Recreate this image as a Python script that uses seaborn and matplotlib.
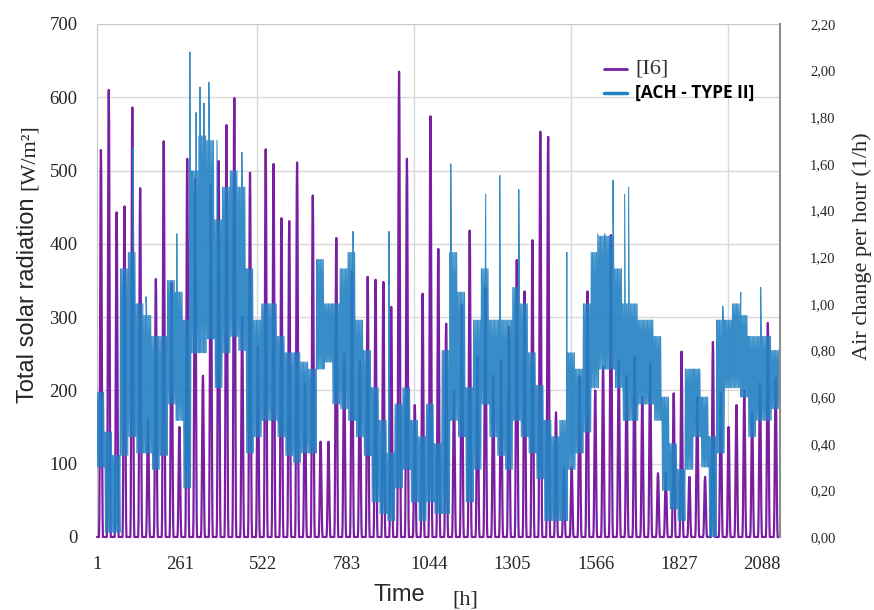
import matplotlib
matplotlib.use("Agg")
import matplotlib.pyplot as plt
import numpy as np
import pandas as pd
import seaborn as sns
from matplotlib.lines import Line2D

# daily noon peak of total solar radiation [I6], W/m2 (one value per day)
i6_peaks = [528, 610, 443, 451, 586, 476, 160, 352, 540, 347,
            150, 516, 489, 220, 480, 513, 562, 599, 300, 497,
            260, 529, 509, 435, 431, 511, 210, 466, 130, 130,
            408, 250, 362, 240, 355, 351, 348, 314, 635, 516,
            180, 332, 574, 393, 291, 200, 317, 418, 246, 340,
            220, 241, 287, 378, 335, 405, 553, 546, 170, 94,
            96, 219, 335, 200, 232, 412, 241, 220, 246, 191,
            237, 87, 87, 196, 253, 82, 191, 82, 266, 196,
            150, 180, 200, 170, 210, 292, 217]
# hourly shape of the day, relative to the noon peak
day_shape = [0, 0, 0, 0, 0, 0, 0, 0.05, 0.2, 0.45, 0.72, 0.93,
             1.0, 0.93, 0.72, 0.45, 0.2, 0.05, 0, 0, 0, 0, 0, 0]

# daily upper / lower envelope of the air change rate, 1/h
ach_high = [0.62, 0.45, 0.35, 1.15, 1.22, 1.00, 0.95, 0.86, 0.86, 1.10,
            1.05, 0.93, 1.57, 1.72, 1.70, 1.36, 1.50, 1.57, 1.50, 1.15,
            0.93, 1.00, 1.00, 0.86, 0.79, 0.79, 0.75, 0.72, 1.19, 1.00,
            1.00, 1.15, 1.22, 0.93, 0.80, 0.64, 0.50, 0.36, 0.57, 0.64,
            0.50, 0.43, 0.57, 0.40, 0.80, 1.22, 1.05, 0.64, 0.93, 1.15,
            0.93, 0.93, 0.93, 1.07, 1.00, 0.79, 0.65, 0.50, 0.43, 0.50,
            0.79, 0.72, 1.00, 1.22, 1.29, 1.29, 1.15, 1.00, 1.00, 0.93,
            0.93, 0.86, 0.60, 0.40, 0.29, 0.72, 0.72, 0.60, 0.43, 0.93,
            0.93, 1.00, 0.95, 0.86, 0.86, 0.86, 0.80]
ach_low = [0.30, 0.02, 0.02, 0.35, 0.43, 0.36, 0.36, 0.29, 0.35, 0.57,
           0.50, 0.21, 0.79, 0.79, 0.85, 0.64, 0.79, 0.86, 0.80, 0.36,
           0.43, 0.50, 0.50, 0.43, 0.35, 0.32, 0.36, 0.36, 0.72, 0.75,
           0.57, 0.55, 0.50, 0.43, 0.35, 0.15, 0.10, 0.07, 0.21, 0.29,
           0.15, 0.07, 0.15, 0.10, 0.10, 0.50, 0.43, 0.15, 0.29, 0.57,
           0.43, 0.35, 0.29, 0.50, 0.43, 0.36, 0.25, 0.07, 0.07, 0.07,
           0.29, 0.36, 0.45, 0.64, 0.72, 0.72, 0.64, 0.50, 0.50, 0.57,
           0.57, 0.50, 0.20, 0.12, 0.07, 0.29, 0.43, 0.30, 0.00, 0.36,
           0.64, 0.64, 0.60, 0.43, 0.50, 0.50, 0.55]
# isolated peaks of the air change rate
spike_hours = [110, 150, 244, 284, 303, 315, 327, 342, 367, 443,
               783, 893, 1082, 1189, 1232, 1290, 1437, 1532, 1553, 1578,
               1614, 1626, 1914, 1969, 2030]
spike_values = [1.67, 1.03, 1.30, 2.08, 1.82, 1.93, 1.86, 1.95, 1.70, 1.65,
                1.31, 1.31, 1.60, 1.47, 1.55, 1.49, 1.22, 1.30, 1.30, 1.53,
                1.47, 1.50, 0.99, 1.05, 1.07]

x_labels = ["1", "261", "522", "783", "1044", "1305", "1566", "1827", "2088"]
left_ticks = [0, 100, 200, 300, 400, 500, 600, 700]
right_labels = ["0,00", "0,20", "0,40", "0,60", "0,80", "1,00", "1,20",
                "1,40", "1,60", "1,80", "2,00", "2,20"]

# hourly solar radiation
hours, rad = [], []
for d, pk in enumerate(i6_peaks):
    for h, f in enumerate(day_shape):
        hours.append(d * 24 + h)
        rad.append(pk * f)
df_i6 = pd.DataFrame({"hour": hours, "I6": rad})

# air change: daily envelope traced back and forth, plus the spikes
pts = []
for d, (hi, lo) in enumerate(zip(ach_high, ach_low)):
    for h, v in zip(range(0, 24, 2), [hi, lo] * 6):
        pts.append((d * 24 + h, v))
pts += list(zip(spike_hours, spike_values))
pts.sort()
df_ach = pd.DataFrame(pts, columns=["hour", "ACH"])

sns.set_style("white")
serif = "Liberation Serif"
sans = "Liberation Sans"

purple = "#7B1FA2"
blue = "#2281C2"
grid_c = "#d9d9d9"

fig = plt.figure(figsize=(8.74, 6.1), dpi=100)
ax = fig.add_axes([0.111, 0.1197, 0.781, 0.841])
ax3 = ax.twinx()   # solar radiation
ax2 = ax.twinx()   # air change, drawn on top

xmax = 2088
ax.set_xlim(0, xmax)

# background grid
ax.set_ylim(0, 700)
ax.set_yticks(left_ticks)
ax.set_yticklabels([str(t) for t in left_ticks], fontfamily=serif, fontsize=13.5)
ax.yaxis.grid(True, color=grid_c, lw=1)
for gx in [490, 970, 1450, 1930]:
    ax.axvline(gx, color=grid_c, lw=1, zorder=0)
ax.set_xticks(np.linspace(0, 2034, len(x_labels)))
ax.set_xticklabels(x_labels, fontfamily=serif, fontsize=13.5)
ax.tick_params(axis="both", length=0)
ax.tick_params(axis="y", pad=14)
ax.tick_params(axis="x", pad=14)
for s in ["left", "top"]:
    ax.spines[s].set_color("#c8c8c8")
ax.spines["bottom"].set_visible(False)
ax.spines["right"].set_visible(False)

# solar radiation
sns.lineplot(data=df_i6, x="hour", y="I6", ax=ax3, color=purple, lw=1.6,
             estimator=None, sort=False, legend=False)
ax3.set_ylim(0, 700)
ax3.set_yticks([])
ax3.set_ylabel("")
for s in ax3.spines.values():
    s.set_visible(False)
for ln in ax3.lines:
    ln.set_clip_on(False)

# air change rate (right axis)
sns.lineplot(data=df_ach, x="hour", y="ACH", ax=ax2, color=blue, lw=0.8,
             alpha=0.9, estimator=None, sort=False, legend=False)
ax2.set_ylim(0, 2.2)
ax2.set_yticks(np.arange(0, 2.21, 0.2))
ax2.set_yticklabels(right_labels, fontfamily=serif, fontsize=10.5)
ax2.tick_params(axis="y", length=0, pad=22)
ax2.set_ylabel("")
for s in ["left", "top", "bottom"]:
    ax2.spines[s].set_visible(False)
ax2.spines["right"].set_color("#8c8c8c")
ax2.spines["right"].set_linewidth(1.5)

ax.set_xlim(0, xmax)
ax.set_xlabel("")
ax.set_ylabel("")

handles = [Line2D([], [], color=purple, lw=2), Line2D([], [], color=blue, lw=2.5)]
leg = ax2.legend(handles, ["[I6]", "[ACH - TYPE II]"], loc="upper left",
                 bbox_to_anchor=(0.725, 0.955), frameon=False,
                 handlelength=1.6, handletextpad=0.6, labelspacing=0.35)
t1, t2 = leg.get_texts()
t1.set_fontfamily(serif)
t1.set_fontsize(16)
t1.set_color("#333333")
t2.set_fontfamily("Open Sans")
t2.set_fontweight("bold")
t2.set_fontsize(12.5)
t2.set_color("black")

# axis titles
fig.text(28 / 874, 1 - 300 / 610, "Total solar radiation", rotation=90,
         ha="center", va="center", fontfamily=sans, fontsize=17)
fig.text(29 / 874, 1 - 157 / 610, "[W/m²]", rotation=90,
         ha="center", va="center", fontfamily=serif, fontsize=16)
fig.text(399 / 874, 1 - 595 / 610, "Time", ha="center", va="center",
         fontfamily=sans, fontsize=17)
fig.text(465 / 874, 1 - 600 / 610, "[h]", ha="center", va="center",
         fontfamily=serif, fontsize=16)
fig.text(862 / 874, 1 - 246 / 610, "Air change per hour (1/h)", rotation=90,
         ha="center", va="center", fontfamily=serif, fontsize=16)

fig.savefig("out.png", dpi=100)
